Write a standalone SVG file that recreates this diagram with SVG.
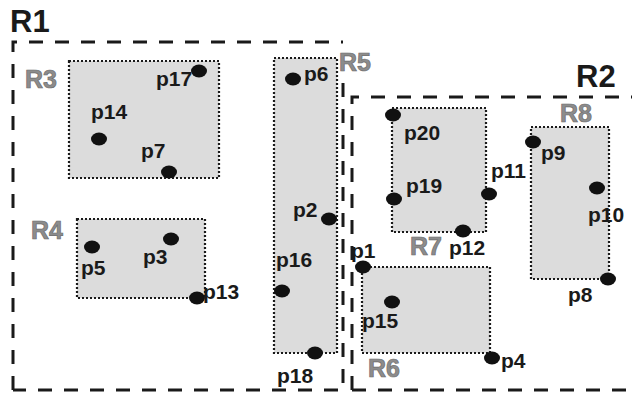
<svg xmlns="http://www.w3.org/2000/svg" width="632" height="394" viewBox="0 0 632 394">
<style>
.big{stroke:#1a1a1a;stroke-width:3;fill:none;stroke-dasharray:14 12}
.reg{fill:#dcdcdc;stroke:#1a1a1a;stroke-width:2.2;stroke-dasharray:2 2}
.pt{fill:#111}
.pl{font-family:"Liberation Sans",Arial,sans-serif;font-weight:bold;font-size:21px;fill:#1a1a1a}
.rl{font-family:"Liberation Sans",Arial,sans-serif;font-weight:bold;font-size:25px;fill:#8c8c8c;stroke:#6e6e6e;stroke-width:0.7}
.bl{font-family:"Liberation Sans",Arial,sans-serif;font-weight:bold;font-size:31px;fill:#1a1a1a}
</style>
<rect width="632" height="394" fill="#fff"/>
<g id="R1">
<path class="big" d="M13,390 L13,42 L343,42"/>
<path class="big" d="M343,83 L343,390 L13,390"/>
<text class="bl" x="10" y="32">R1</text>
</g>
<g id="R2">
<path class="big" d="M352,390 L352,97 L640,97"/>
<path class="big" d="M352,390 L640,390"/>
<text class="bl" x="576" y="87">R2</text>
</g>
<g id="R3">
<rect class="reg" x="69" y="61" width="150" height="117"/>
<text class="rl" x="25" y="88">R3</text>
</g>
<g id="R4">
<rect class="reg" x="77" y="219" width="128" height="79"/>
<text class="rl" x="31" y="239">R4</text>
</g>
<g id="R5">
<rect class="reg" x="274" y="58" width="63" height="295"/>
<text class="rl" x="339" y="71">R5</text>
</g>
<g id="R6">
<rect class="reg" x="362" y="267" width="128" height="86"/>
<text class="rl" x="368" y="377">R6</text>
</g>
<g id="R7">
<rect class="reg" x="392" y="108" width="94" height="124"/>
<text class="rl" x="410" y="255">R7</text>
</g>
<g id="R8">
<rect class="reg" x="531" y="127" width="78" height="152"/>
<text class="rl" x="560" y="122">R8</text>
</g>
<g id="p17"><ellipse class="pt" cx="199" cy="71" rx="8" ry="6.5"/><text class="pl" x="156" y="86">p17</text></g>
<g id="p14"><ellipse class="pt" cx="99" cy="139" rx="8" ry="6.5"/><text class="pl" x="91" y="119">p14</text></g>
<g id="p7"><ellipse class="pt" cx="169" cy="172" rx="8" ry="6.5"/><text class="pl" x="141" y="158">p7</text></g>
<g id="p6"><ellipse class="pt" cx="293" cy="79" rx="8" ry="6.5"/><text class="pl" x="304" y="81">p6</text></g>
<g id="p2"><ellipse class="pt" cx="329" cy="219" rx="8" ry="6.5"/><text class="pl" x="293" y="217">p2</text></g>
<g id="p5"><ellipse class="pt" cx="92" cy="247" rx="8" ry="6.5"/><text class="pl" x="81" y="275">p5</text></g>
<g id="p3"><ellipse class="pt" cx="171" cy="239" rx="8" ry="6.5"/><text class="pl" x="143" y="264">p3</text></g>
<g id="p13"><ellipse class="pt" cx="197" cy="298" rx="8" ry="6.5"/><text class="pl" x="203" y="299">p13</text></g>
<g id="p16"><ellipse class="pt" cx="282" cy="291" rx="8" ry="6.5"/><text class="pl" x="276" y="267">p16</text></g>
<g id="p18"><ellipse class="pt" cx="315" cy="353" rx="8" ry="6.5"/><text class="pl" x="277" y="383">p18</text></g>
<g id="p20"><ellipse class="pt" cx="393" cy="115" rx="8" ry="6.5"/><text class="pl" x="404" y="140">p20</text></g>
<g id="p19"><ellipse class="pt" cx="394" cy="199" rx="8" ry="6.5"/><text class="pl" x="406" y="193">p19</text></g>
<g id="p11"><ellipse class="pt" cx="489" cy="194" rx="8" ry="6.5"/><text class="pl" x="491" y="178">p11</text></g>
<g id="p12"><ellipse class="pt" cx="463" cy="231" rx="8" ry="6.5"/><text class="pl" x="449" y="255">p12</text></g>
<g id="p9"><ellipse class="pt" cx="533" cy="142" rx="8" ry="6.5"/><text class="pl" x="541" y="160">p9</text></g>
<g id="p10"><ellipse class="pt" cx="597" cy="188" rx="8" ry="6.5"/><text class="pl" x="588" y="222">p10</text></g>
<g id="p1"><ellipse class="pt" cx="363" cy="267" rx="8" ry="6.5"/><text class="pl" x="351" y="258">p1</text></g>
<g id="p15"><ellipse class="pt" cx="392" cy="302" rx="8" ry="6.5"/><text class="pl" x="362" y="328">p15</text></g>
<g id="p4"><ellipse class="pt" cx="492" cy="358" rx="8" ry="6.5"/><text class="pl" x="501" y="368">p4</text></g>
<g id="p8"><ellipse class="pt" cx="608" cy="279" rx="8" ry="6.5"/><text class="pl" x="568" y="302">p8</text></g>
<g id="connectors"></g>
</svg>
